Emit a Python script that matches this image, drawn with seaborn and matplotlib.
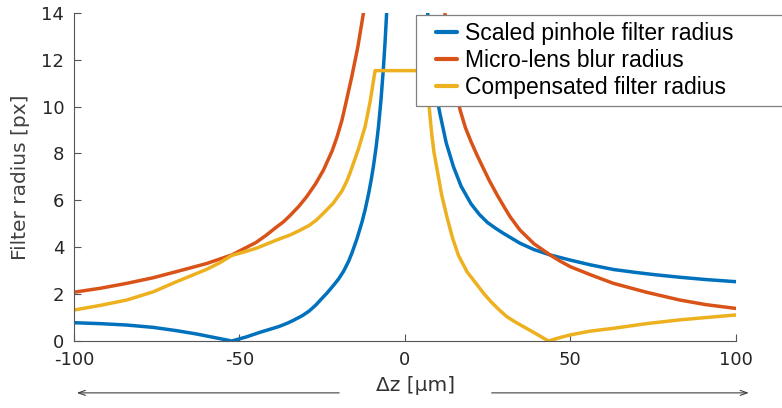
import numpy as np
import pandas as pd
import seaborn as sns
import matplotlib.pyplot as plt
from matplotlib.lines import Line2D
from matplotlib.legend_handler import HandlerLine2D

# values (dz in um, radius in px)
blue_left_z = [-100, -92, -84, -76, -69, -63, -58, -52.3, -48, -43.8, -38, -35.5, -33.7, -31, -29,
               -27, -25.5, -23.5, -21.7, -20, -18.5, -17, -16, -14.5, -13, -12, -11, -10.2, -9.5,
               -8.7, -8, -7.2, -6.5, -6, -5.5]
blue_left_r = [0.78, 0.74, 0.68, 0.58, 0.44, 0.30, 0.16, 0.0, 0.17, 0.37, 0.62, 0.76, 0.88, 1.08,
               1.27, 1.52, 1.75, 2.05, 2.35, 2.65, 2.98, 3.4, 3.75, 4.35, 5.05, 5.6, 6.25, 6.85, 7.45,
               8.25, 9.1, 10.3, 11.6, 12.7, 14.0]
blue_right_z = [6.9, 7.5, 8.1, 9.3, 10.6, 12.5, 14.7, 17, 20, 22.5, 25, 27.5, 29.8, 34.8, 39, 43.9,
                50, 56, 63, 70, 76, 83, 91, 100]
blue_right_r = [14.0, 12.7, 11.8, 10.65, 9.7, 8.45, 7.43, 6.6, 5.85, 5.4, 5.05, 4.8, 4.59, 4.17,
                3.9, 3.67, 3.45, 3.25, 3.05, 2.92, 2.82, 2.72, 2.62, 2.53]

red_left_z = [-100, -92, -84, -76, -69, -60, -52.3, -45, -42, -38.7, -36.7, -34.7, -32, -29.7, -27,
              -24.6, -22, -20.5, -19, -17.5, -16, -14.2, -12.5]
red_left_r = [2.08, 2.25, 2.46, 2.70, 2.96, 3.30, 3.67, 4.20, 4.50, 4.87, 5.08, 5.35, 5.75, 6.15,
              6.7, 7.29, 8.1, 8.7, 9.42, 10.35, 11.3, 12.55, 14.0]
red_right_z = [12.1, 13.8, 15.2, 16.7, 18.3, 20, 21.8, 23.5, 25.5, 28, 30, 31.8, 34.8, 39, 43.9,
               47, 50, 56, 63, 73, 83, 91, 100]
red_right_r = [14.0, 12.0, 10.8, 9.85, 9.1, 8.5, 7.93, 7.43, 6.85, 6.2, 5.72, 5.30, 4.73, 4.15,
               3.67, 3.4, 3.17, 2.83, 2.46, 2.08, 1.75, 1.55, 1.39]

yellow_z = [-100, -92, -84, -76, -69, -60, -56, -52.3, -48.5, -45, -42, -38.7, -34.7, -32, -29,
            -26.8, -24.6, -21.7, -19, -17.6, -16.6, -14, -12, -10.5, -9, 6.5, 7.0, 7.4, 8.1, 8.8,
            9.6, 11.1, 12.7, 14.4, 16.2, 18.8, 21.7, 24, 26, 28.5, 30.8, 33.5, 36, 39.5, 43.4, 47,
            50, 56, 63, 73, 83, 91, 100]
yellow_r = [1.32, 1.52, 1.75, 2.10, 2.53, 3.05, 3.33, 3.65, 3.80, 3.95, 4.12, 4.31, 4.52, 4.70,
            4.92, 5.15, 5.45, 5.87, 6.4, 6.8, 7.15, 8.2, 9.15, 10.2, 11.53, 11.53, 10.65, 9.9,
            8.86, 8.05, 7.43, 6.25, 5.30, 4.4, 3.65, 2.95, 2.42, 2.0, 1.68, 1.33, 1.04, 0.8, 0.6,
            0.32, 0.0, 0.15, 0.26, 0.42, 0.54, 0.74, 0.90, 1.0, 1.11]

labels = ['Scaled pinhole filter radius', 'Micro-lens blur radius', 'Compensated filter radius']
colors = ['#0072BD', '#D95319', '#EDB120']

segments = [
    (labels[0], 'b1', blue_left_z, blue_left_r),
    (labels[0], 'b2', blue_right_z, blue_right_r),
    (labels[1], 'r1', red_left_z, red_left_r),
    (labels[1], 'r2', red_right_z, red_right_r),
    (labels[2], 'y1', yellow_z, yellow_r),
]
frames = []
for name, seg, z, r in segments:
    frames.append(pd.DataFrame({'dz': z, 'radius': r, 'series': name, 'segment': seg}))
df = pd.concat(frames, ignore_index=True)

sns.set_style('ticks')
plt.rcParams['font.family'] = ['DejaVu Sans']
plt.rcParams['axes.unicode_minus'] = False

fig = plt.figure(figsize=(7.82, 4.08), dpi=100)
ax = fig.add_axes([74 / 782, 1 - 341 / 408, 661.7 / 782, 328.3 / 408])

sns.lineplot(data=df, x='dz', y='radius', hue='series', units='segment', estimator=None,
             sort=False, palette=dict(zip(labels, colors)), linewidth=2.5, legend=False, ax=ax)

ax.set_xlim(-100, 100)
ax.set_ylim(0, 14)
ax.set_xticks([-100, -50, 0, 50, 100])
ax.set_yticks(range(0, 15, 2))
sns.despine(ax=ax)
for s in ['left', 'bottom']:
    ax.spines[s].set_color('#555555')
    ax.spines[s].set_linewidth(0.8)
ax.tick_params(direction='in', length=5, width=0.8, color='#555555', labelsize=13,
               labelcolor='#262626', pad=7)

ax.set_xlabel('Δz [μm]', fontsize=14.5, color='#333333')
ax.set_ylabel('Filter radius [px]', fontsize=14.5, color='#404040')
ax.xaxis.set_label_coords(0.516, -0.106)
ax.yaxis.set_label_coords(-0.066, 0.5)

# direction arrows under the axis
arrow = dict(arrowstyle='->,head_length=0.5,head_width=0.18', color='#404040', lw=0.8)
ax.annotate('', xy=(0.0, -0.158), xytext=(0.405, -0.158), xycoords='axes fraction',
            textcoords='axes fraction', arrowprops=arrow, annotation_clip=False)
ax.annotate('', xy=(1.024, -0.158), xytext=(0.627, -0.158), xycoords='axes fraction',
            textcoords='axes fraction', arrowprops=arrow, annotation_clip=False)

handles = [Line2D([], [], color=c, lw=3) for c in colors]
leg = ax.legend(handles, labels, loc='upper left', bbox_to_anchor=(0.532, 0.5, 0.5, 0.463),
                bbox_transform=fig.transFigure, mode='expand', borderaxespad=0,
                prop={'family': 'Liberation Sans', 'size': 16.5}, frameon=True, fancybox=False,
                framealpha=1, edgecolor='#808080', borderpad=0.3, labelspacing=0.17,
                handlelength=1.48, handletextpad=0.35,
                handler_map={Line2D: HandlerLine2D(xpad=0.57)})
leg.get_frame().set_linewidth(0.9)
for t in leg.get_texts():
    t.set_color('black')

fig.savefig('out.png', dpi=100)
